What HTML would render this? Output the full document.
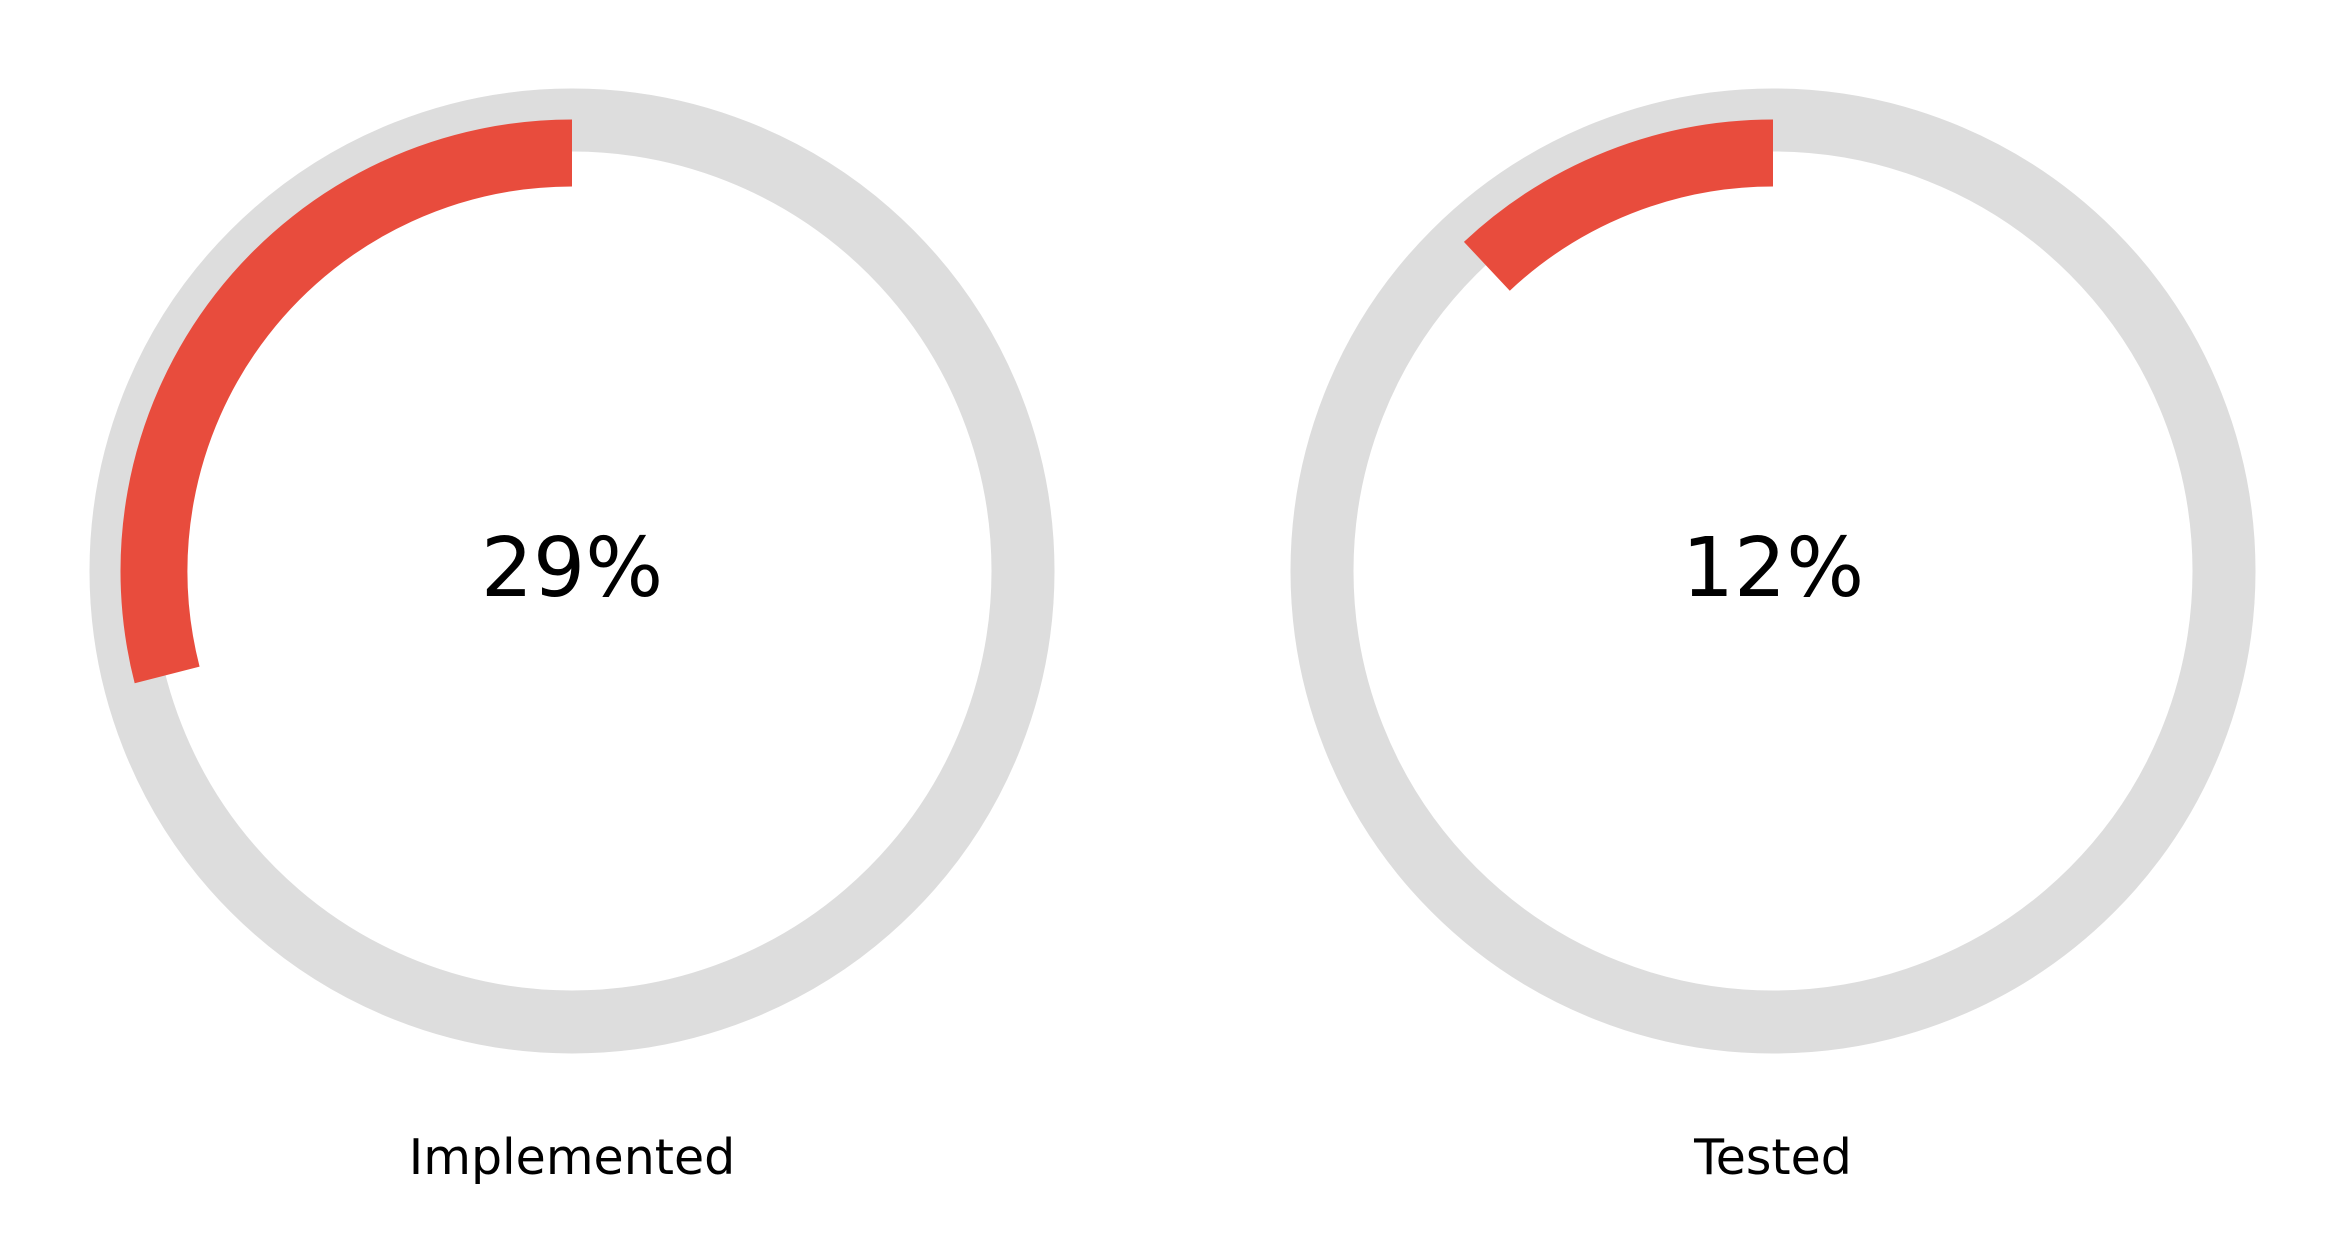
<!DOCTYPE html>
<html><head><meta charset="utf-8"><style>
html,body{margin:0;padding:0;background:#fff;}
svg{display:block;}
text{font-family:"DejaVu Sans","Liberation Sans",sans-serif;}
</style></head><body>
<svg id="chart" width="2344" height="1234" viewBox="0 0 2344 1234" xmlns="http://www.w3.org/2000/svg"></svg>
<script>
const labels = ["Implemented", "Tested"];
const percents = [29, 12];

const svg = document.getElementById('chart');
const NS = 'http://www.w3.org/2000/svg';
const centersX = [572, 1773];
const cy = 571;
const grayR = 451, grayW = 63;
const redR = 418, redW = 67;

function pt(r, frac, cx) {
  const a = frac * 2 * Math.PI;
  return [cx - r * Math.sin(a), cy - r * Math.cos(a)];
}

labels.forEach((lab, i) => {
  const cx = centersX[i];
  const g = document.createElementNS(NS, 'g');
  
  
  svg.appendChild(g);

  const bg = document.createElementNS(NS, 'circle');
  
  
  bg.setAttribute('cx', cx); bg.setAttribute('cy', cy); bg.setAttribute('r', grayR);
  bg.setAttribute('fill', 'none'); bg.setAttribute('stroke', '#dddddd'); bg.setAttribute('stroke-width', grayW);
  g.appendChild(bg);

  const f = percents[i] / 100;
  const [x0, y0] = pt(redR, 0, cx);
  const [x1, y1] = pt(redR, f, cx);
  const large = f > 0.5 ? 1 : 0;
  const arc = document.createElementNS(NS, 'path');
  
  
  arc.setAttribute('d', `M${x0},${y0} A${redR},${redR} 0 ${large} 0 ${x1},${y1}`);
  arc.setAttribute('fill', 'none'); arc.setAttribute('stroke', '#e84c3d'); arc.setAttribute('stroke-width', redW);
  arc.setAttribute('stroke-linecap', 'butt');
  g.appendChild(arc);

  const t = document.createElementNS(NS, 'text');
  
  
  t.setAttribute('x', cx); t.setAttribute('y', cy + 25);
  t.setAttribute('text-anchor', 'middle'); t.setAttribute('font-size', '82');
  t.textContent = percents[i] + '%';
  g.appendChild(t);

  const l = document.createElementNS(NS, 'text');
  
  
  l.setAttribute('x', cx); l.setAttribute('y', 1174);
  l.setAttribute('text-anchor', 'middle'); l.setAttribute('font-size', '49');
  l.textContent = lab;
  g.appendChild(l);
});
</script>
</body></html>
